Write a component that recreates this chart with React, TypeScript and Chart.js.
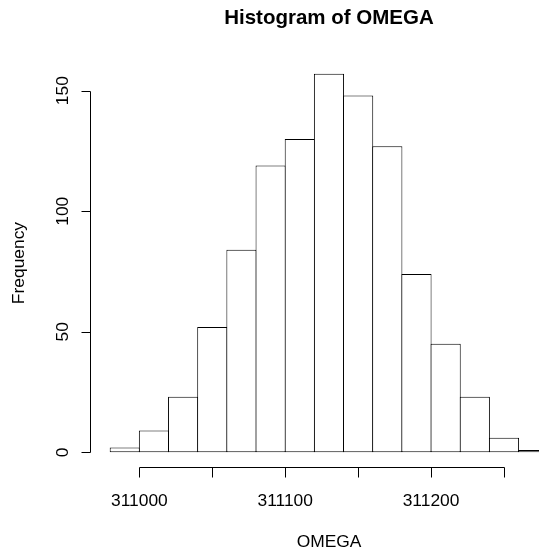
import React, { useEffect, useRef } from 'react';
import { Chart, registerables } from 'chart.js';

Chart.register(...registerables);

// ---- data ----
const binStarts = [310980, 311000, 311020, 311040, 311060, 311080, 311100, 311120, 311140, 311160, 311180, 311200, 311220, 311240, 311260];
const binWidth = 20;
const frequencies = [2, 9, 23, 52, 84, 119, 130, 157, 148, 127, 74, 45, 23, 6, 1];
const xTickValues = [311000, 311050, 311100, 311150, 311200, 311250];
const xTickLabels = ['311000', '', '311100', '', '311200', ''];
const yTickValues = [0, 50, 100, 150];
const yTickLabels = ['0', '50', '100', '150'];
const titleText = 'Histogram of OMEGA';
const xTitle = 'OMEGA';
const yTitle = 'Frequency';

const FONT = '"Liberation Sans", Arial, Helvetica, sans-serif';

const rAxesPlugin = {
  id: 'rAxes',
  afterDraw(chart: any) {
    const ctx = chart.ctx as CanvasRenderingContext2D;
    const xs = chart.scales.x;
    const ys = chart.scales.y;
    const area = chart.chartArea;
    ctx.save();
    ctx.strokeStyle = '#000';
    ctx.fillStyle = '#000';
    ctx.lineWidth = 1;

    // x axis
    const ay = Math.floor(area.bottom) + 0.5;
    const xPix = xTickValues.map((v) => Math.round(xs.getPixelForValue(v)) + 0.5);
    ctx.beginPath();
    ctx.moveTo(xPix[0], ay);
    ctx.lineTo(xPix[xPix.length - 1], ay);
    xPix.forEach((p) => {
      ctx.moveTo(p, ay);
      ctx.lineTo(p, ay + 10);
    });
    ctx.stroke();
    ctx.font = `17.4px ${FONT}`;
    ctx.textAlign = 'center';
    ctx.textBaseline = 'alphabetic';
    xTickValues.forEach((v, i) => {
      if (xTickLabels[i]) ctx.fillText(xTickLabels[i], xs.getPixelForValue(v), ay + 38.5);
    });

    // y axis
    const ax = Math.floor(area.left) + 0.5;
    const yPix = yTickValues.map((v) => Math.round(ys.getPixelForValue(v)) + 0.5);
    ctx.beginPath();
    ctx.moveTo(ax, yPix[0]);
    ctx.lineTo(ax, yPix[yPix.length - 1]);
    yPix.forEach((p) => {
      ctx.moveTo(ax, p);
      ctx.lineTo(ax - 9, p);
    });
    ctx.stroke();
    yTickValues.forEach((v, i) => {
      ctx.save();
      ctx.translate(ax - 23, ys.getPixelForValue(v));
      ctx.rotate(-Math.PI / 2);
      ctx.textAlign = 'center';
      ctx.fillText(yTickLabels[i], 0, 0);
      ctx.restore();
    });

    // axis titles
    ctx.textAlign = 'center';
    ctx.fillText(xTitle, 329, 547);
    ctx.save();
    ctx.translate(24, (area.top + area.bottom) / 2);
    ctx.rotate(-Math.PI / 2);
    ctx.fillText(yTitle, 0, 0);
    ctx.restore();

    // main title
    ctx.font = `bold 20.5px ${FONT}`;
    ctx.fillText(titleText, 329, 24);
    ctx.restore();
  },
};

export default function App() {
  const ref = useRef<HTMLCanvasElement | null>(null);

  useEffect(() => {
    if (!ref.current) return;
    const chart = new Chart(ref.current, {
      type: 'bar',
      data: {
        datasets: [
          {
            data: binStarts.map((s, i) => ({ x: s + binWidth / 2, y: frequencies[i] })),
            backgroundColor: '#ffffff',
            borderColor: '#000000',
            borderWidth: 1,
            borderSkipped: false,
            barPercentage: 1.034,
            categoryPercentage: 1,
          } as any,
        ],
      },
      options: {
        animation: false,
        responsive: false,
        devicePixelRatio: 1,
        events: [],
        layout: { padding: { left: 90.5, right: 0, top: 58.7, bottom: 86.6 } },
        plugins: {
          legend: { display: false },
          tooltip: { enabled: false },
          title: { display: false },
        },
        scales: {
          x: {
            type: 'linear',
            min: 310966.5,
            max: 311274,
            offset: false,
            grid: { offset: false },
            display: false,
            afterBuildTicks: (s: any) => {
              s.ticks = xTickValues.map((v) => ({ value: v }));
            },
          },
          y: {
            type: 'linear',
            min: -6.26,
            max: 163.27,
            display: false,
            afterBuildTicks: (s: any) => {
              s.ticks = yTickValues.map((v) => ({ value: v }));
            },
          },
        },
      } as any,
      plugins: [rAxesPlugin],
    });
    return () => chart.destroy();
  }, []);

  return (
    <div style={{ position: 'absolute', left: 0, top: 0, width: 539, height: 554, background: '#fff' }}>
      <canvas ref={ref} width={539} height={554} style={{ width: 539, height: 554, display: 'block' }} />
    </div>
  );
}
